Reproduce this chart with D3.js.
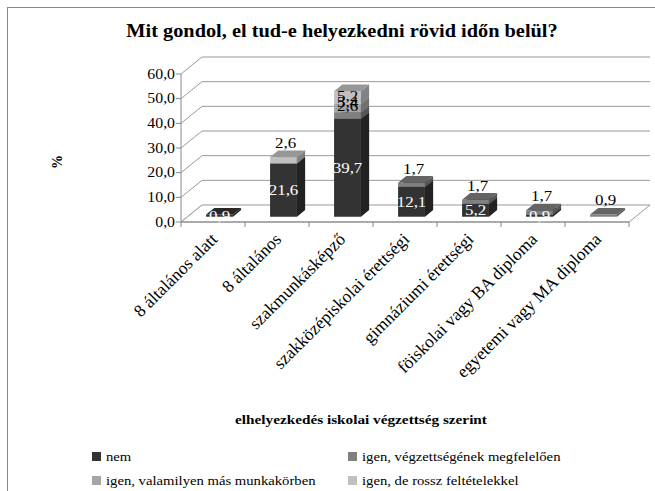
<!DOCTYPE html>
<html>
<head>
<meta charset="utf-8">
<script src="https://cdn.jsdelivr.net/npm/d3@7"></script>
<style>
  body { margin: 0; background: #fff; }
</style>
</head>
<body>
<div id="chart"></div>
<script>
// categories and series (stacked from the bottom)
var categories = ["8 általános alatt", "8 általános", "szakmunkásképző", "szakközépiskolai érettségi",
  "gimnáziumi érettségi", "föiskolai vagy BA diploma", "egyetemi vagy MA diploma"];
var seriesNames = ["nem", "igen, végzettségének megfelelően", "igen, valamilyen más munkakörben", "igen, de rossz feltételekkel"];
var seriesColors = ["#333333", "#808080", "#a6a6a6", "#c0c0c0"];

var nem = [0.9, 21.6, 39.7, 12.1, 5.2, 0.9, 0];
var megfelelo = [0, 0, 2.6, 1.7, 1.7, 1.7, 0.9];
var masMunkakor = [0, 0, 3.4, 0, 0, 0, 0];
var rosszFeltetel = [0, 2.6, 5.2, 0, 0, 0, 0];

var yTicks = [0, 10, 20, 30, 40, 50, 60];

var W = 655, H = 491;
var DX = 21, DY = 17;            // depth of the plot box
var zFront = 0.31, zBack = 0.70; // bars sit in the middle of the depth
var SX = 1.13;                   // the original text is a bit wide

var svg = d3.select("#chart").append("svg").attr("width", W).attr("height", H)
  .attr("font-family", "'Liberation Serif', 'Times New Roman', serif");

// horizontal text, slightly stretched like the source
function label(parent, xx, yy, str, size, anchor, bold, fill) {
  return parent.append("text")
    .attr("transform", "translate(" + xx + "," + yy + ") scale(" + SX + ",1)")
    .attr("text-anchor", anchor).attr("dy", "0.33em")
    .attr("font-size", size).attr("font-weight", bold ? "bold" : "normal")
    .attr("fill", fill || "#000").text(str);
}

// outer chart border
svg.append("rect").attr("x", 7.5).attr("y", 7.5).attr("width", 660).attr("height", 500)
  .attr("fill", "none").attr("stroke", "#888");

var x = d3.scaleBand().domain(categories).range([181, 629]).paddingInner(0.58).paddingOuter(0.29);
var xEdge = d3.scaleLinear().domain([0, categories.length]).range([181, 629]);
var y = d3.scaleLinear().domain([0, 60]).range([222, 74]);

var fmt = function(v) { return d3.format(".1f")(v).replace(".", ","); };

// walls and gridlines
var g = svg.append("g");
yTicks.forEach(function(t) {
  if (t > 0) {
    g.append("line").attr("x1", 181 + DX).attr("x2", 629 + DX)
      .attr("y1", y(t) - DY).attr("y2", y(t) - DY).attr("stroke", "#999");
  }
  g.append("line").attr("x1", 181).attr("x2", 181 + DX)
    .attr("y1", y(t)).attr("y2", y(t) - DY).attr("stroke", "#999");
  g.append("line").attr("x1", 176).attr("x2", 181).attr("y1", y(t)).attr("y2", y(t)).attr("stroke", "#888");
  label(g, 175, y(t), fmt(t), 14, "end");
});
// floor
g.append("path")
  .attr("d", "M181," + y(0) + "L629," + y(0) + "L" + (629 + DX) + "," + (y(0) - DY) + "L" + (181 + DX) + "," + (y(0) - DY) + "Z")
  .attr("fill", "#fff").attr("stroke", "#999");
g.append("line").attr("x1", 181).attr("x2", 181).attr("y1", y(60)).attr("y2", y(0)).attr("stroke", "#888");
g.append("line").attr("x1", 181).attr("x2", 629).attr("y1", y(0)).attr("y2", y(0)).attr("stroke", "#888");
d3.range(categories.length + 1).forEach(function(i) {
  g.append("line").attr("x1", xEdge(i)).attr("x2", xEdge(i)).attr("y1", y(0)).attr("y2", y(0) + 5).attr("stroke", "#888");
});

// bars
var stackData = categories.map(function(c, i) {
  return [nem[i], megfelelo[i], masMunkakor[i], rosszFeltetel[i]];
});
var bx = DX * zFront, by = DY * zFront;
var ddx = DX * (zBack - zFront), ddy = DY * (zBack - zFront);
var bars = svg.append("g");
var labels = [];

stackData.forEach(function(vals, i) {
  var x0 = x(categories[i]) + bx, x1 = x0 + x.bandwidth();
  var base = 0;
  var nonNem = vals.filter(function(v, k) { return k > 0 && v > 0; }).length;
  var seen = 0;
  vals.forEach(function(v, k) {
    if (!v) return;
    var yb = y(base) - by, yt = y(base + v) - by;
    var c = d3.color(seriesColors[k]);
    var box = bars.append("g");
    box.append("path").attr("d", "M" + x0 + "," + yb + "L" + x1 + "," + yb + "L" + x1 + "," + yt + "L" + x0 + "," + yt + "Z")
      .attr("fill", c.formatHex());
    box.append("path").attr("d", "M" + x1 + "," + yb + "L" + (x1 + ddx) + "," + (yb - ddy) + "L" + (x1 + ddx) + "," + (yt - ddy) + "L" + x1 + "," + yt + "Z")
      .attr("fill", c.darker(1.1).formatHex());
    box.append("path").attr("d", "M" + x0 + "," + yt + "L" + x1 + "," + yt + "L" + (x1 + ddx) + "," + (yt - ddy) + "L" + (x0 + ddx) + "," + (yt - ddy) + "Z")
      .attr("fill", c.darker(0.7).formatHex());
    var cx = (x0 + x1) / 2, cy = (yb + yt) / 2;
    if (k === 0) {
      labels.push({ x: cx, y: cy, t: fmt(v), fill: "#fff" });
    } else if (nonNem === 1) {
      labels.push({ x: cx + 2, y: yt - 14, t: fmt(v), fill: "#000" });
    } else {
      // crowded stack: labels sit near the segment, as in the source
      labels.push({ x: cx, y: cy - (10 - 4 * seen), t: fmt(v), fill: "#000" });
      seen++;
    }
    base += v;
  });
});

var lg = svg.append("g");
labels.forEach(function(d) { label(lg, d.x, d.y, d.t, 15, "middle", false, d.fill); });

// category labels
svg.append("g").selectAll("text").data(categories).enter().append("text")
  .attr("transform", function(d, i) { return "translate(" + (xEdge(i + 0.5) + 1) + "," + (y(0) + 14) + ") rotate(-45)"; })
  .attr("text-anchor", "end").attr("dy", "0.35em").attr("font-size", 17.5).text(function(d) { return d; });

// titles
label(svg, 342, 31, "Mit gondol, el tud-e helyezkedni rövid időn belül?", 18, "middle", true);
svg.append("text").attr("transform", "translate(57,162) rotate(-90)").attr("text-anchor", "middle")
  .attr("dy", "0.33em").attr("font-size", 14).attr("font-weight", "bold").text("%");
label(svg, 361, 420, "elhelyezkedés iskolai végzettség szerint", 13.5, "middle", true);

// legend (two columns)
var legendPos = [[92, 457], [348, 457], [92, 481], [348, 481]];
var legend = svg.append("g").selectAll("g").data(seriesNames).enter().append("g")
  .attr("transform", function(d, i) { return "translate(" + legendPos[i][0] + "," + legendPos[i][1] + ")"; });
legend.append("rect").attr("x", 0).attr("y", -5).attr("width", 9).attr("height", 9)
  .attr("fill", function(d, i) { return seriesColors[i]; });
legend.each(function(d) { label(d3.select(this), 14, 0, d, 13, "start"); });
</script>
</body>
</html>
